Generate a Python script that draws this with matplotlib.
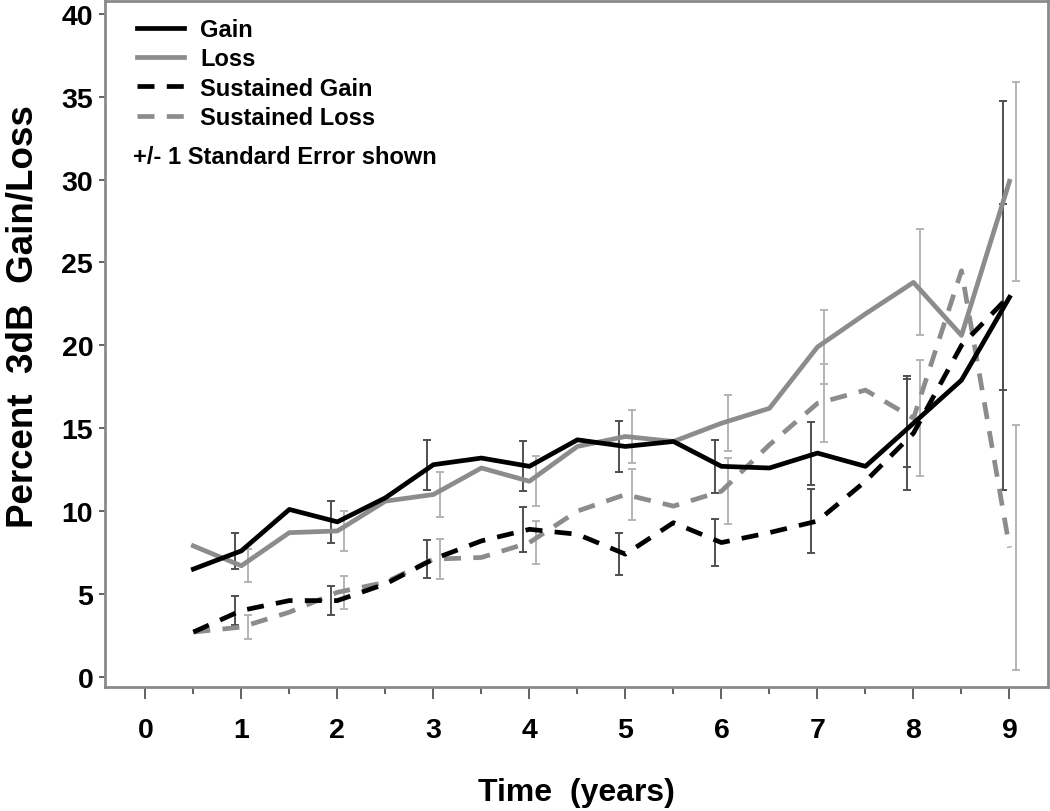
import numpy as np
import matplotlib.pyplot as plt

# dados
years = [0.5, 1, 1.5, 2, 2.5, 3, 3.5, 4, 4.5, 5, 5.5, 6, 6.5, 7, 7.5, 8, 8.5, 9]
gain = [6.5, 7.6, 10.1, 9.35, 10.8, 12.8, 13.2, 12.7, 14.3, 13.9, 14.2, 12.7, 12.6, 13.5, 12.7, 15.3, 17.9, 22.9]
loss = [7.9, 6.7, 8.7, 8.8, 10.6, 11.0, 12.6, 11.8, 13.9, 14.5, 14.2, 15.3, 16.2, 19.9, 21.9, 23.8, 20.6, 29.9]
sust_gain = [2.7, 4.0, 4.6, 4.6, 5.6, 7.1, 8.2, 8.9, 8.6, 7.4, 9.3, 8.1, 8.7, 9.4, 11.8, 14.7, 20.0, 23.0]
sust_loss = [2.7, 3.0, 3.9, 5.1, 5.7, 7.1, 7.2, 8.1, 10.0, 11.0, 10.3, 11.2, 14.0, 16.5, 17.3, 15.6, 24.5, 7.8]

# erro padrao nos anos inteiros
se_years = [1, 2, 3, 4, 5, 6, 7, 8, 9]
gain_se = [1.1, 1.25, 1.5, 1.5, 1.55, 1.6, 1.9, 2.65, 5.6]
loss_se = [1.0, 1.2, 1.35, 1.5, 1.6, 1.7, 2.25, 3.2, 6.0]
sust_gain_se = [0.85, 0.9, 1.15, 1.35, 1.25, 1.4, 1.95, 3.45, 11.75]
sust_loss_se = [0.7, 1.0, 1.2, 1.3, 1.55, 2.0, 2.35, 3.5, 7.4]

x_ticks = [0, 1, 2, 3, 4, 5, 6, 7, 8, 9]
y_ticks = [0, 5, 10, 15, 20, 25, 30, 35, 40]

black = '#000000'
gray = '#8c8c8c'
dark_err = '#505050'
light_err = '#b4b4b4'
font = 'Liberation Sans'

fig = plt.figure(figsize=(10.5, 8.12), dpi=100)
ax = fig.add_axes([0.100, 0.153, 0.898, 0.845])

def values_at(xs, ys, targets):
    d = dict(zip(xs, ys))
    return [d[t] for t in targets]

se_x = np.array(se_years, dtype=float)
err_style = dict(fmt='none', elinewidth=1.4, capsize=2.6, capthick=1.4, zorder=2)
ax.errorbar(se_x - 0.07, values_at(years, gain, se_years), yerr=gain_se, ecolor=dark_err, **err_style)
ax.errorbar(se_x - 0.07, values_at(years, sust_gain, se_years), yerr=sust_gain_se, ecolor=dark_err, **err_style)
ax.errorbar(se_x + 0.07, values_at(years, loss, se_years), yerr=loss_se, ecolor=light_err, **err_style)
ax.errorbar(se_x + 0.07, values_at(years, sust_loss, se_years), yerr=sust_loss_se, ecolor=light_err, **err_style)

dash = (0, (3.6, 2.6))
ax.plot(years, gain, color=black, lw=3.4, label='Gain', zorder=4)
ax.plot(years, loss, color=gray, lw=3.4, label='Loss', zorder=3)
ax.plot(years, sust_gain, color=black, lw=3.4, ls=dash, label='Sustained Gain', zorder=4)
ax.plot(years, sust_loss, color=gray, lw=3.4, ls=dash, label='Sustained Loss', zorder=3)

ax.set_xlim(-0.42, 9.4)
ax.set_ylim(-0.6, 40.8)
ax.set_xticks(x_ticks)
ax.set_xticks(np.arange(0.5, 9.5, 1.0), minor=True)
ax.set_yticks(y_ticks)

tick_font = dict(family=font, weight='bold', size=20.5)
ax.set_xticklabels([str(t) for t in x_ticks], fontdict=tick_font)
ax.set_yticklabels([str(t) for t in y_ticks], fontdict=tick_font)
ax.tick_params(axis='x', which='major', length=8.6, width=1.3, color='#555555', pad=13)
ax.tick_params(axis='x', which='minor', length=5, width=1.3, color='#555555')
ax.tick_params(axis='y', which='major', length=4.5, width=1.3, color='#555555', pad=4)

for s in ax.spines.values():
    s.set_color('#8a8a8a')
    s.set_linewidth(2)

ax.set_xlabel('Time  (years)', family=font, weight='bold', size=23, labelpad=25)
ax.set_ylabel('Percent  3dB  Gain/Loss', family=font, weight='bold', size=26.5)
ax.yaxis.set_label_coords(-0.068, 0.541)

leg = ax.legend(loc='upper left', bbox_to_anchor=(0.034, 0.975), frameon=False,
                prop=dict(family=font, weight='bold', size=17),
                handlelength=2.0, handletextpad=0.68, labelspacing=0.27,
                borderpad=0, borderaxespad=0)

ax.text(0.0297, 0.7726, '+/- 1 Standard Error shown', transform=ax.transAxes,
        family=font, weight='bold', size=17, va='center', ha='left')

plt.savefig('out.png', dpi=100)
